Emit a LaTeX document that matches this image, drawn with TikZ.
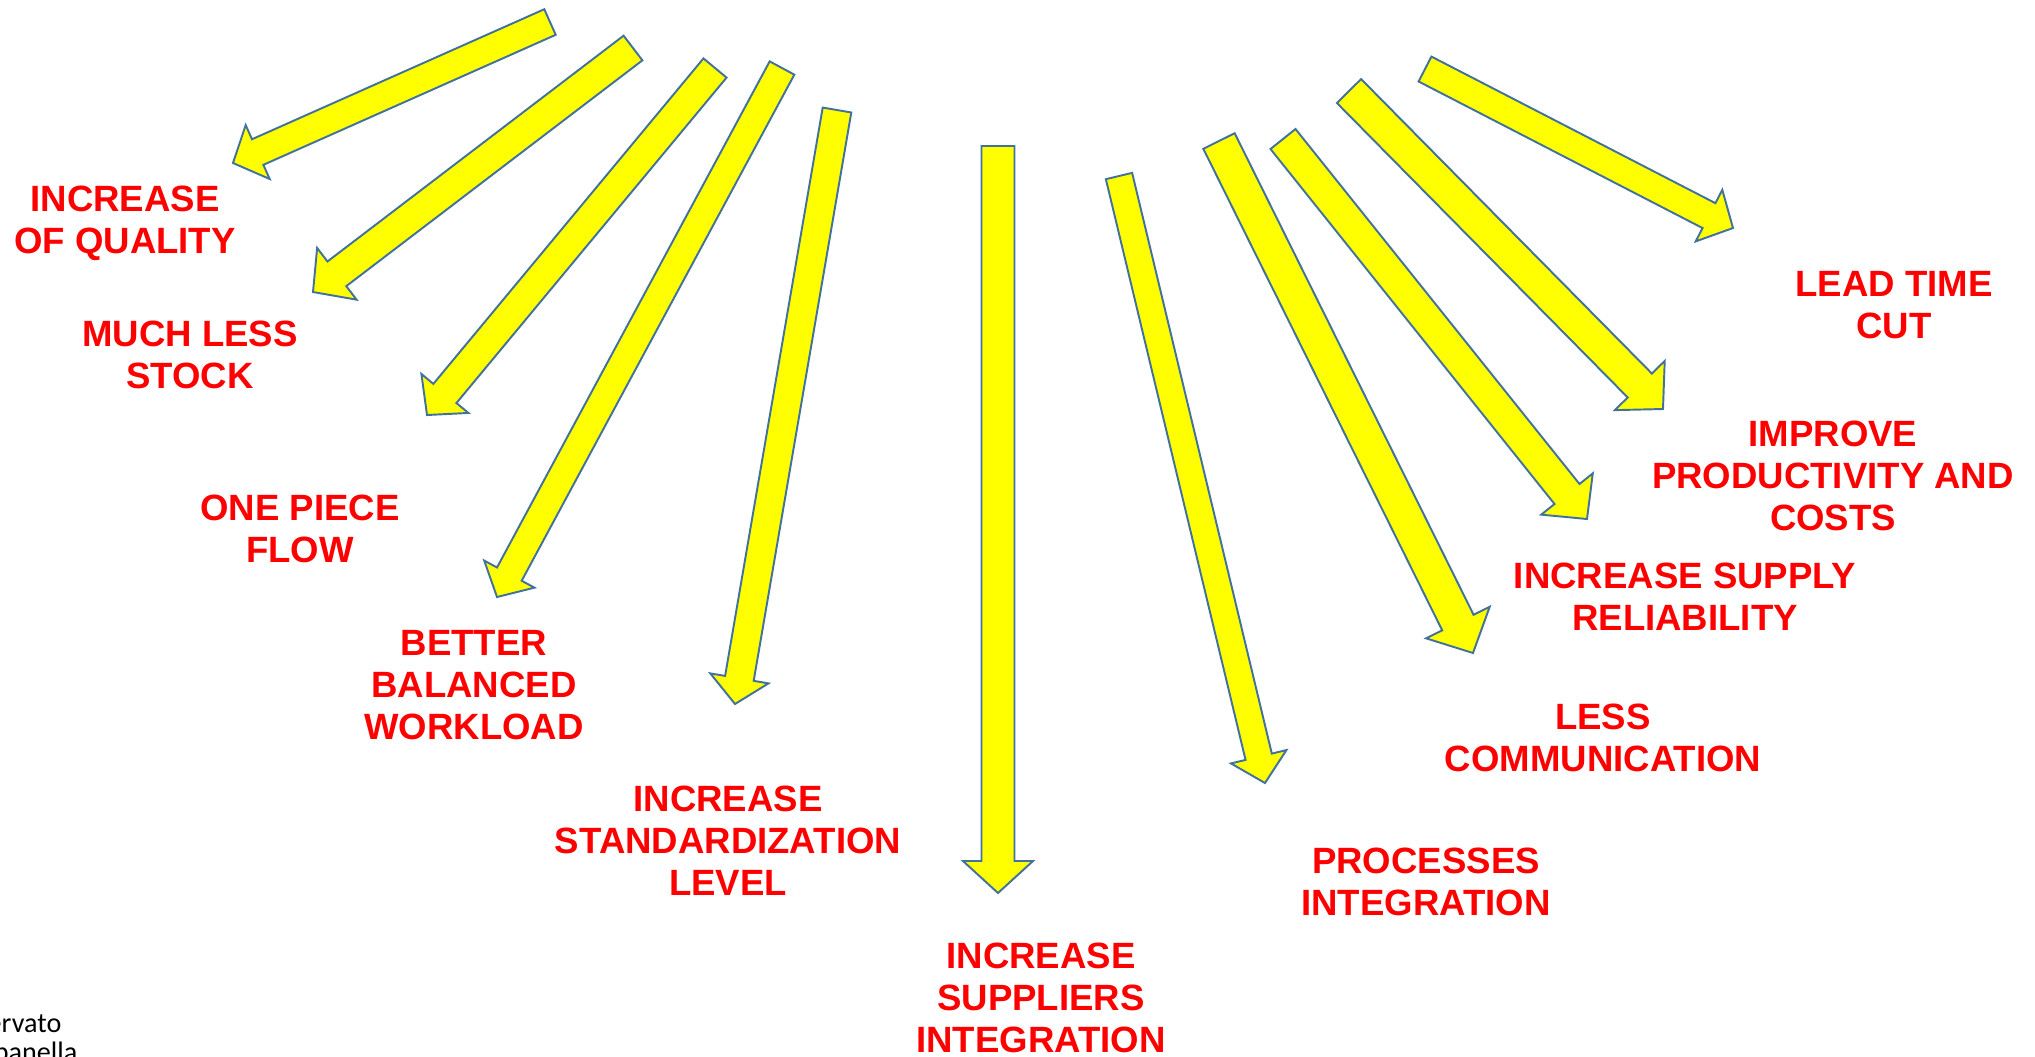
\documentclass[tikz,border=0pt]{standalone}
\usepackage{fontspec}
\setmainfont{Liberation Sans}
\newfontfamily\notefont{Carlito}
\usetikzlibrary{calc}

\definecolor{arrowline}{RGB}{65,113,156}
\definecolor{arrowfill}{RGB}{255,255,0}

% block arrow from (#1-s) to (#1-e): half shaft, half head, head length
\newcommand{\blockarrow}[4]{%
  \coordinate (#1-n) at ($(#1-e)!#4!(#1-s)$);
  \draw[blockarr] ($(#1-s)!#2!90:(#1-e)$) -- ($(#1-n)!#2!90:(#1-e)$)
    -- ($(#1-n)!#3!90:(#1-e)$) -- (#1-e)
    -- ($(#1-n)!#3!-90:(#1-e)$) -- ($(#1-n)!#2!-90:(#1-e)$)
    -- ($(#1-s)!#2!-90:(#1-e)$) -- cycle;
}

\begin{document}
\begin{tikzpicture}[x=0.01cm,y=-0.01cm,
    blockarr/.style={draw=arrowline,fill=arrowfill,line width=0.55pt},
    lbl/.style={text=red,font=\fontsize{10.4}{11.9}\selectfont\bfseries,align=center,inner sep=0pt},
    note/.style={font=\notefont\fontsize{8}{9.6}\selectfont,inner sep=0pt}]
\useasboundingbox (0,0) rectangle (2035,1056);

%arrow ends
\coordinate (quality-s) at (550,22);   \coordinate (quality-e) at (233,163);
\coordinate (stock-s) at (633,48);     \coordinate (stock-e) at (313,292);
\coordinate (flow-s) at (715,68);      \coordinate (flow-e) at (427,415);
\coordinate (workload-s) at (782,68);  \coordinate (workload-e) at (497,597);
\coordinate (standard-s) at (837,110); \coordinate (standard-e) at (735,704);
\coordinate (suppliers-s) at (998,146);\coordinate (suppliers-e) at (998,893);
\coordinate (process-s) at (1119,176); \coordinate (process-e) at (1265,783);
\coordinate (comm-s) at (1219,141);    \coordinate (comm-e) at (1473,653);
\coordinate (reliab-s) at (1283,139);  \coordinate (reliab-e) at (1587,519);
\coordinate (product-s) at (1349,91);  \coordinate (product-e) at (1663,409);
\coordinate (lead-s) at (1425,69);     \coordinate (lead-e) at (1733,228);

%arrows
\blockarrow{quality}{1.4mm}{2.95mm}{2.7mm}
\blockarrow{stock}{1.55mm}{3.25mm}{3mm}
\blockarrow{flow}{1.5mm}{3.05mm}{2.8mm}
\blockarrow{workload}{1.4mm}{2.85mm}{2.6mm}
\blockarrow{standard}{1.45mm}{2.95mm}{2.6mm}
\blockarrow{suppliers}{1.65mm}{3.5mm}{3.2mm}
\blockarrow{process}{1.35mm}{2.85mm}{2.7mm}
\blockarrow{comm}{1.75mm}{3.55mm}{3.4mm}
\blockarrow{reliab}{1.6mm}{3.3mm}{3.2mm}
\blockarrow{product}{1.7mm}{3.5mm}{3.3mm}
\blockarrow{lead}{1.4mm}{2.9mm}{2.7mm}

%left labels
\node[lbl] (lquality) at (125,223) {INCREASE\\OF QUALITY};
\node[lbl] (lstock) at (190,355) {MUCH LESS\\STOCK};
\node[lbl] (lflow) at (300,529) {ONE PIECE\\FLOW};
\node[lbl] (lworkload) at (474,685) {BETTER\\BALANCED\\WORKLOAD};
\node[lbl] (lstandard) at (728,841) {INCREASE\\STANDARDIZATION\\LEVEL};
\node[lbl] (lsuppliers) at (1041,998) {INCREASE\\SUPPLIERS\\INTEGRATION};

%right labels
\node[lbl] (lprocess) at (1426,882) {PROCESSES\\INTEGRATION};
\node[lbl] (lcomm) at (1603,738) {LESS\\COMMUNICATION};
\node[lbl] (lreliab) at (1685,597) {INCREASE SUPPLY\\RELIABILITY};
\node[lbl] (lproduct) at (1833,476) {IMPROVE\\PRODUCTIVITY AND\\COSTS};
\node[lbl] (llead) at (1894,305) {LEAD TIME\\CUT};

%cut-off footer
\node[note,anchor=base east] (foot1) at (62,1032) {ervato};
\node[note,anchor=base east] (foot2) at (78,1061) {panella};
\end{tikzpicture}
\end{document}
